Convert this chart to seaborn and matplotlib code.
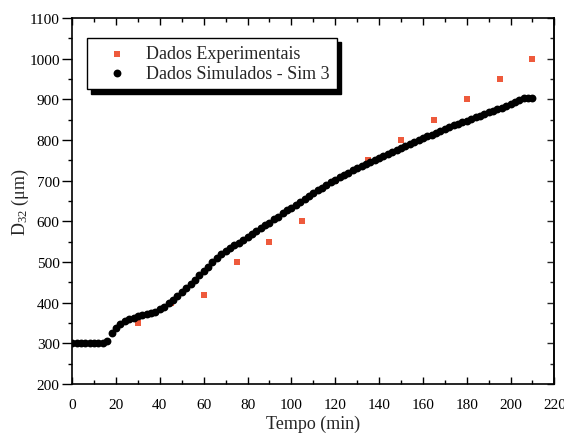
import numpy as np
import pandas as pd
import matplotlib
matplotlib.use("Agg")
import matplotlib.pyplot as plt
import seaborn as sns
from matplotlib.ticker import MultipleLocator

# Dados experimentais
tempo_exp = [30, 45, 60, 75, 90, 105, 120, 135, 150, 165, 180, 195, 210]
d32_exp = [350, 400, 420, 500, 550, 600, 700, 750, 800, 850, 900, 950, 1000]

# Dados simulados - Sim 3 (a cada 2 min)
tempo_sim = list(range(0, 211, 2))
d32_sim = [
    300, 300, 300, 300, 300, 300, 300, 300, 305, 325,
    337, 347, 354, 359, 363, 366, 369, 372, 375, 378,
    384, 390, 398, 406, 416, 426, 436, 446, 456, 467,
    478, 489, 500, 510, 519, 527, 534, 541, 547, 554,
    562, 569, 576, 583, 590, 597, 605, 612, 620, 627,
    634, 641, 648, 655, 662, 669, 676, 683, 690, 696,
    702, 708, 714, 720, 726, 731, 736, 741, 746, 751,
    756, 761, 766, 771, 776, 781, 786, 790, 795, 799,
    804, 809, 813, 818, 822, 827, 831, 836, 840, 844,
    848, 852, 856, 860, 864, 868, 872, 876, 880, 884,
    889, 894, 899, 903, 904, 903,
]

df_exp = pd.DataFrame({"tempo": tempo_exp, "d32": d32_exp})
df_sim = pd.DataFrame({"tempo": tempo_sim, "d32": d32_sim})

sns.set_style("ticks")
plt.rcParams["font.family"] = ["Liberation Serif", "DejaVu Serif"]
plt.rcParams["mathtext.fontset"] = "custom"
plt.rcParams["mathtext.rm"] = "Liberation Serif"
plt.rcParams["mathtext.it"] = "Liberation Serif:italic"

fig = plt.figure(figsize=(5.64, 4.35), dpi=100)
ax = fig.add_axes([0.128, 0.115, 0.855, 0.841])

sns.scatterplot(data=df_exp, x="tempo", y="d32", ax=ax, marker="s",
                color="#EE5A3C", s=22, linewidth=0, zorder=2,
                label="Dados Experimentais")
sns.scatterplot(data=df_sim, x="tempo", y="d32", ax=ax, marker="o",
                color="black", s=32, linewidth=0, zorder=3,
                label="Dados Simulados - Sim 3")

ax.set_xlim(0, 220)
ax.set_ylim(200, 1100)
ax.xaxis.set_major_locator(MultipleLocator(20))
ax.xaxis.set_minor_locator(MultipleLocator(10))
ax.yaxis.set_major_locator(MultipleLocator(100))
ax.yaxis.set_minor_locator(MultipleLocator(50))

# eixo x e lado direito/topo: ticks para dentro; eixo y esquerdo: para fora
ax.tick_params(axis="x", which="both", direction="in", top=True,
               labelsize=11, colors="black", pad=10)
ax.tick_params(axis="y", which="both", direction="out", left=True,
               right=False, labelsize=11, colors="black", pad=2)
ax.tick_params(which="major", length=5, width=1)
ax.tick_params(which="minor", length=3, width=1)
ax.tick_params(axis="y", which="major", length=7)

ax_r = ax.secondary_yaxis("right")
ax_r.yaxis.set_major_locator(MultipleLocator(100))
ax_r.yaxis.set_minor_locator(MultipleLocator(50))
ax_r.tick_params(which="both", direction="in", labelright=False, width=1)
ax_r.tick_params(which="major", length=5)
ax_r.tick_params(which="minor", length=3)
ax_r.spines["right"].set_linewidth(1.2)

for sp in ax.spines.values():
    sp.set_linewidth(1.2)
    sp.set_color("black")

ax.set_xlabel("Tempo (min)", fontsize=13, labelpad=3)
ax.set_ylabel("D$_{32}$ ($\\mathrm{\\mu}$m)", fontsize=13)
ax.yaxis.set_label_coords(-0.086, 0.5)

leg = ax.legend(loc="upper left", bbox_to_anchor=(0.030, 0.945),
                borderaxespad=0, fontsize=13, frameon=True, fancybox=False,
                shadow={"color": "black", "alpha": 1, "ox": 3, "oy": -3},
                handletextpad=0.3, borderpad=0.4, labelspacing=0.15,
                handlelength=2.6, markerscale=1.0)
leg.get_frame().set_edgecolor("black")
leg.get_frame().set_linewidth(1.0)
leg.get_frame().set_alpha(1)

fig.savefig("out.png", dpi=100)
